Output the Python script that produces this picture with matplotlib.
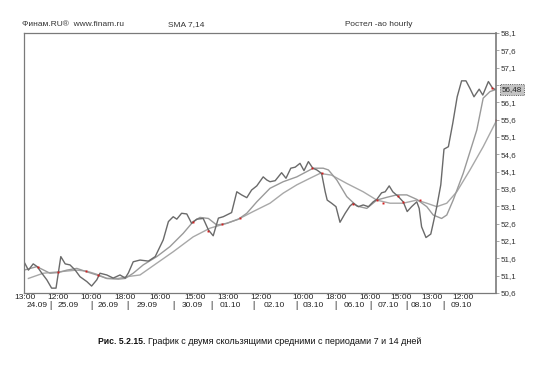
import matplotlib.pyplot as plt
import matplotlib.transforms as mtransforms

plt.rcParams['font.family'] = ['Liberation Sans', 'DejaVu Sans']

# hourly bar index / price
price_x = [0, 1.1, 2.3, 3.3, 4.4, 5.7, 6.9, 8.0, 9.2, 10.3, 11.5, 12.8, 14, 15.7, 16.9,
           18.2, 19, 20.7, 22.3, 24, 25.3, 26.1, 27.3, 29, 31.1, 32.8, 34.8, 36.1, 37.3,
           38.2, 39.4, 40.7, 41.9, 43.2, 44.8, 46.1, 47.3, 48.6, 49.8, 51.9, 53.2, 54.4,
           55.7, 56.9, 58.2, 59.8, 60.7, 61.5, 62.8, 64.4, 65.5, 66.7, 67.8, 69, 70, 71.1,
           72.2, 73.2, 74.4, 75.3, 75.8, 76.9, 78, 79, 80.3, 81.5, 82.3, 83.6, 84.8, 86.1,
           87.3, 88.2, 89.4, 90.3, 91.3, 92.2, 93.6, 94.8, 95.8, 96.9, 98.2, 98.8, 99.4,
           100.5, 101.7, 102.3, 103.2, 104.2, 105, 106.1, 107.2, 108.3, 109.4, 110.5,
           111.5, 112.5, 113.8, 114.7, 116.1, 117.2, 118.2]
price = [51.50, 51.26, 51.44, 51.36, 51.18, 50.98, 50.74, 50.74, 51.65, 51.44, 51.41,
         51.26, 51.07, 50.93, 50.80, 50.98, 51.17, 51.12, 51.03, 51.12, 51.03, 51.18,
         51.50, 51.55, 51.52, 51.65, 52.13, 52.66, 52.80, 52.73, 52.90, 52.88, 52.61,
         52.73, 52.75, 52.42, 52.25, 52.76, 52.80, 52.92, 53.52, 53.43, 53.35, 53.57,
         53.69, 53.95, 53.86, 53.81, 53.84, 54.07, 53.91, 54.20, 54.23, 54.34, 54.13,
         54.39, 54.20, 54.15, 54.05, 53.52, 53.28, 53.19, 53.09, 52.64, 52.90, 53.11,
         53.19, 53.09, 53.14, 53.09, 53.23, 53.30, 53.49, 53.52, 53.69, 53.52, 53.38,
         53.23, 52.95, 53.09, 53.23, 53.04, 52.51, 52.20, 52.30, 52.61, 53.09, 53.72,
         54.75, 54.82, 55.50, 56.26, 56.72, 56.72, 56.50, 56.26, 56.48, 56.31, 56.70,
         56.50, 56.46]

sma7_x = [0, 3.2, 6.5, 8.6, 10.7, 13.2, 15.7, 18.2, 20.7, 23.6, 25.3, 27.3, 29.8, 33.2,
          36.5, 39.8, 42.3, 44, 46.1, 48.2, 50.7, 53.6, 55.7, 58.2, 61.5, 64.8, 68.2,
          72.3, 74.8, 76.1, 78.2, 80.7, 83.2, 85.7, 88.2, 90.7, 93.2, 95.7, 98.2, 100.7,
          102.3, 104.4, 105.7, 107.3, 109.8, 113.2, 114.8, 116.5, 118.2]
sma7 = [51.26, 51.36, 51.17, 51.19, 51.26, 51.31, 51.21, 51.12, 51.02, 51.00, 51.02,
        51.17, 51.41, 51.65, 51.94, 52.32, 52.66, 52.78, 52.75, 52.56, 52.61, 52.73,
        52.90, 53.23, 53.62, 53.81, 53.95, 54.20, 54.20, 54.15, 53.86, 53.38, 53.11,
        53.04, 53.28, 53.36, 53.43, 53.43, 53.30, 53.09, 52.85, 52.75, 52.85, 53.28,
        54.05, 55.30, 56.22, 56.41, 56.48]

sma14_x = [1.1, 4.8, 8.6, 13.2, 15.7, 18.2, 20.7, 23.6, 25.7, 29, 33.2, 37.3, 42.3, 46.5,
           50.7, 53.6, 57.3, 61.5, 64.8, 68.2, 71.5, 74, 76.9, 80.7, 84.8, 88.2, 91.5,
           94.8, 98.2, 100.7, 103.2, 105.7, 108.2, 111.5, 114.8, 118.2]
sma14 = [51.02, 51.17, 51.21, 51.26, 51.23, 51.14, 51.02, 51.02, 51.07, 51.12, 51.46,
         51.79, 52.22, 52.47, 52.61, 52.73, 52.95, 53.19, 53.48, 53.72, 53.91, 54.05,
         54.00, 53.76, 53.52, 53.28, 53.19, 53.19, 53.28, 53.19, 53.09, 53.19, 53.52,
         54.15, 54.82, 55.59]

# small red marks where the lines cross
cross_x = [3.6, 8.6, 15.5, 18.4, 42.3, 46.1, 49.4, 54, 71.9, 74.4, 82.3, 88.2, 89.8,
           93.4, 94.7, 99, 116.9, 118]
cross_y = [51.36, 51.21, 51.23, 51.12, 52.66, 52.40, 52.58, 52.76, 54.20, 54.05, 53.17,
           53.28, 53.19, 53.40, 53.23, 53.28, 56.50, 55.59]

time_pos = [0.25, 8.4, 16.75, 25.25, 34, 42.75, 51, 59.25, 69.75, 78, 86.5, 94.25, 102, 109.75]
time_labels = ['13:00', '12:00', '10:00', '18:00', '16:00', '15:00', '13:00', '12:00',
               '10:00', '18:00', '16:00', '15:00', '13:00', '12:00']
date_pos = [3.25, 11, 21, 30.75, 42, 51.5, 62.5, 72.25, 82.5, 91, 99.4, 109.2]
date_labels = ['24.09', '25.09', '26.09', '29.09', '30.09', '01.10', '02.10', '03.10',
               '06.10', '07.10', '08.10', '09.10']
sep_pos = [6.7, 16.75, 25.75, 37.25, 46.75, 57.25, 68.2, 77.75, 86.5, 95.7, 104.8]
y_ticks = [50.6, 51.1, 51.6, 52.1, 52.6, 53.1, 53.6, 54.1, 54.6, 55.1, 55.6, 56.1, 56.6,
           57.1, 57.6, 58.1]
last_price = 56.48

fig = plt.figure(figsize=(5.42, 3.82), dpi=100)
ax = fig.add_axes([0.0443, 0.233, 0.8708, 0.6806])

ax.plot(sma14_x, sma14, color='#a8a8a8', lw=1.0)
ax.plot(sma7_x, sma7, color='#9a9a9a', lw=1.0)
ax.plot(price_x, price, color='#6a6a6a', lw=1.0)
ax.plot(cross_x, cross_y, ls='none', marker='s', ms=1.4, mec='none', mfc='#d42020')

ax.set_xlim(0, 118)
ax.set_ylim(50.6, 58.1)

for s in ax.spines.values():
    s.set_color('#7a7a7a')
    s.set_linewidth(0.9)
ax.spines['right'].set_linewidth(1.2)

ax.yaxis.tick_right()
ax.set_yticks(y_ticks)
ax.set_yticklabels([f'{v:.1f}'.replace('.', ',') for v in y_ticks])
# the 56,6 label is covered by the last-price box
ax.get_yticklabels()[12].set_visible(False)
ax.tick_params(axis='y', length=2, width=0.6, color='#9a9a9a', pad=1,
               labelsize=5.8, labelcolor='#333333')

ax.set_xticks(time_pos)
ax.set_xticklabels(time_labels)
ax.tick_params(axis='x', length=0, pad=1, labelsize=6, labelcolor='#222222')

trans = mtransforms.blended_transform_factory(ax.transData, ax.transAxes)
for x, lab in zip(date_pos, date_labels):
    ax.text(x, -0.05, lab, transform=trans, ha='center', va='center',
            fontsize=6, color='#222222')
for x in sep_pos:
    ax.text(x, -0.05, '|', transform=trans, ha='center', va='center',
            fontsize=6.5, color='#222222')

ax.text(1.013, last_price, f'{last_price:.2f}'.replace('.', ','),
        transform=mtransforms.blended_transform_factory(ax.transAxes, ax.transData),
        ha='left', va='center', fontsize=5.8, color='#222222',
        bbox=dict(boxstyle='square,pad=0.25', fc='#c4c4c4', ec='#333333', lw=0.6, ls=':'))

fig.text(0.041, 0.935, 'Финам.RU®  www.finam.ru', fontsize=6, color='#333333',
         ha='left', va='center')
fig.text(0.31, 0.935, 'SMA 7,14', fontsize=6, color='#333333', ha='left', va='center')
fig.text(0.698, 0.935, 'Ростел -ао hourly', fontsize=6, color='#333333',
         ha='center', va='center')

fig.text(0.268, 0.105, 'Рис. 5.2.15.', fontsize=6.2, fontweight='bold', color='#111111',
         ha='right', va='center')
fig.text(0.273, 0.105, 'График с двумя скользящими средними с периодами 7 и 14 дней',
         fontsize=6.5, color='#111111', ha='left', va='center')

fig.savefig('out.png', dpi=100)
